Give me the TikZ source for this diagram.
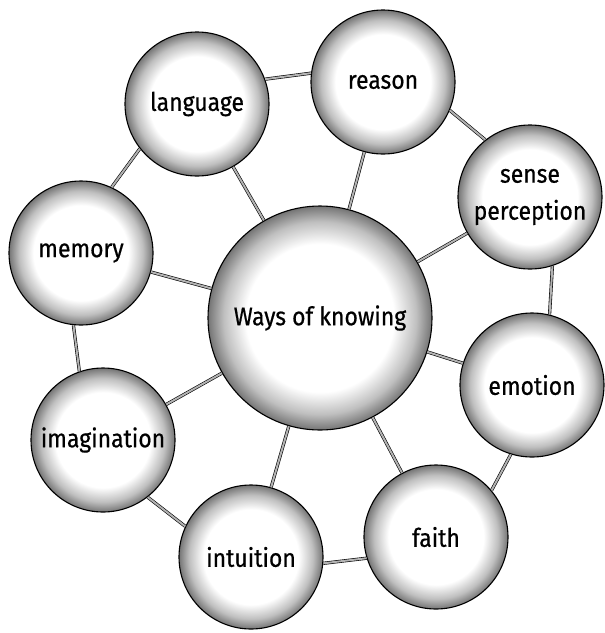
\documentclass[tikz,border=0pt]{standalone}
\usepackage{fontspec}
\setsansfont{Fira Sans}[FakeStretch=0.9, FakeBold=0.6]
\pgfdeclareradialshading{ballshade}{\pgfpoint{0bp}{0bp}}{color(0bp)=(white); color(16.5bp)=(white); color(21.5bp)=(black!25); color(24.5bp)=(black!50); color(25bp)=(black!55); color(50bp)=(black!55)}
\tikzset{
  ball/.style={circle, draw=black, line width=1.1pt, shade, shading=ballshade,
    minimum size=144pt, inner sep=0pt, align=center, text=black,
    font=\sffamily\fontsize{25.5}{37}\selectfont},
  bigball/.style={ball, minimum size=224pt},
  link/.style={draw=black, line width=0.6pt, double=black!30, double distance=2pt}
}
\begin{document}
\begin{tikzpicture}[x=1pt, y=-1pt]
  \useasboundingbox (0,0) rectangle (605,633);
  \node[bigball] (c) at (320,318) {Ways of knowing};
  \node[ball] (lang) at (197,104) {language};
  \node[ball] (reas) at (383,82) {reason};
  \node[ball] (sens) at (530,197) {sense\\perception};
  \node[ball] (emot) at (532,385) {emotion};
  \node[ball] (fait) at (436,537) {faith};
  \node[ball] (intu) at (251,557) {intuition};
  \node[ball] (imag) at (103,440) {imagination};
  \node[ball] (memo) at (81,253) {memory};
  % spokes
  \draw[link] (c) -- (lang);
  \draw[link] (c) -- (reas);
  \draw[link] (c) -- (sens);
  \draw[link] (c) -- (emot);
  \draw[link] (c) -- (fait);
  \draw[link] (c) -- (intu);
  \draw[link] (c) -- (imag);
  \draw[link] (c) -- (memo);
  % ring
  \draw[link] (lang.20) -- (reas.173);
  \draw[link] (reas.-23) -- (sens.128);
  \draw[link] (sens.-72) -- (emot.76);
  \draw[link] (emot.-107) -- (fait.40);
  \draw[link] (fait.-163) -- (intu.-5);
  \draw[link] (intu.155) -- (imag.-52);
  \draw[link] (imag.109) -- (memo.-96);
  \draw[link] (memo.65) -- (lang.-142);
\end{tikzpicture}
\end{document}
